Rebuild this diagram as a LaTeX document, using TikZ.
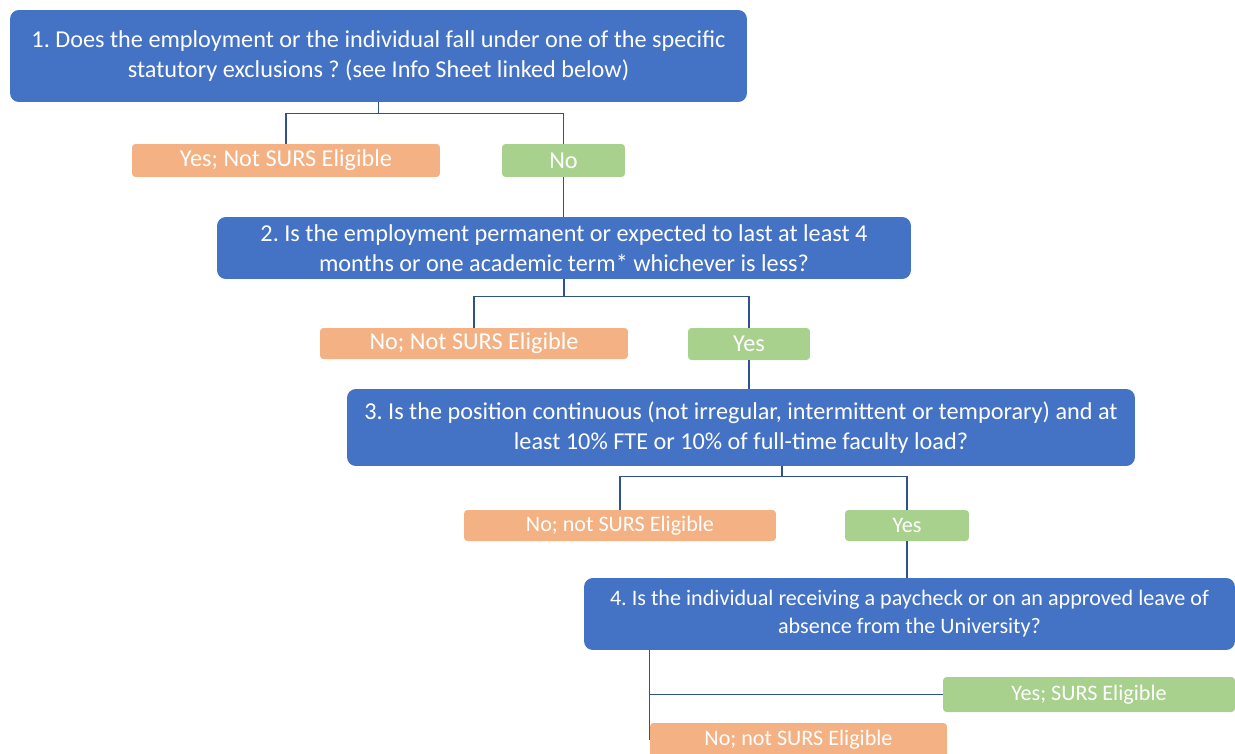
\documentclass[tikz,border=0pt]{standalone}
\usepackage{fontspec}
\setmainfont{Carlito}
\frenchspacing
\definecolor{qblue}{HTML}{4472C4}
\definecolor{noorange}{HTML}{F4B183}
\definecolor{yesgreen}{HTML}{A9D18E}
\definecolor{linkblue}{HTML}{2F528F}
\begin{document}
\begin{tikzpicture}[x=0.02cm,y=-0.02cm,
		qbox/.style={fill=qblue,text=white,rounded corners=5pt,align=center,inner sep=0pt,font=\fontsize{13.8}{17}\selectfont},
		nobox/.style={fill=noorange,text=white,rounded corners=2pt,inner sep=0pt,font=\fontsize{13.8}{15}\selectfont},
		yesbox/.style={fill=yesgreen,text=white,rounded corners=2pt,inner sep=0pt,font=\fontsize{13.8}{15}\selectfont},
		smalltext/.style={font=\fontsize{12.6}{16}\selectfont},
		link/.style={draw=linkblue,line width=0.8pt}]
	\useasboundingbox (0,0) rectangle (1235,754);
	\clip (0,0) rectangle (1235,754);
	% questions
	\node[qbox,minimum width=14.74cm,minimum height=1.84cm] (q1) at (378.5,56) {1. Does the employment or the individual fall under one of the specific\\statutory exclusions ? (see Info Sheet linked below)};
	\node[qbox,minimum width=13.88cm,minimum height=1.24cm] (q2) at (564,248) {2. Is the employment permanent or expected to last at least 4\\months or one academic term* whichever is less?};
	\node[qbox,minimum width=15.76cm,minimum height=1.54cm] (q3) at (741,427.5) {3. Is the position continuous (not irregular, intermittent or temporary) and at\\least 10\% FTE or 10\% of full-time faculty load?};
	\node[qbox,smalltext,minimum width=13.02cm,minimum height=1.44cm] (q4) at (909.5,614) {4. Is the individual receiving a paycheck or on an approved leave of\\absence from the University?};
	% answers
	\node[nobox,minimum width=6.16cm,minimum height=0.66cm] (yes1) at (286,160.5) {Yes; Not SURS Eligible};
	\node[yesbox,minimum width=2.46cm,minimum height=0.66cm] (no1) at (563.5,160.5) {No};
	\node[nobox,minimum width=6.16cm,minimum height=0.62cm] (no2) at (474,343.5) {No; Not SURS Eligible};
	\node[yesbox,minimum width=2.44cm,minimum height=0.64cm] (yes2) at (749,344) {Yes};
	\node[nobox,smalltext,minimum width=6.24cm,minimum height=0.62cm] (no3) at (620,525.5) {No; not SURS Eligible};
	\node[yesbox,smalltext,minimum width=2.48cm,minimum height=0.62cm] (yes3) at (907,525.5) {Yes};
	\node[yesbox,smalltext,minimum width=5.84cm,minimum height=0.70cm] (yes4) at (1089,694.5) {Yes; SURS Eligible};
	\node[nobox,smalltext,minimum width=5.94cm,minimum height=0.68cm] (no4) at (798.5,740) {No; not SURS Eligible};
	% connectors
	\draw[link] (q1.south) -- ++(0,11) -| (yes1.north);
	\draw[link] (q1.south) -- ++(0,11) -| (no1.north);
	\draw[link] (no1.south) -- (no1.south |- q2.north);
	\draw[link] (q2.south) -- ++(0,17) -| (no2.north);
	\draw[link] (q2.south) -- ++(0,17) -| (yes2.north);
	\draw[link] (yes2.south) -- (yes2.south |- q3.north);
	\coordinate (t3) at ([xshift=0.82cm]q3.south);
	\draw[link] (t3) -- ++(0,10) -| (no3.north);
	\draw[link] (t3) -- ++(0,10) -| (yes3.north);
	\draw[link] (yes3.south) -- (yes3.south |- q4.north);
	\coordinate (t4) at ([xshift=1.32cm]q4.south west);
	\draw[link] (t4) |- (yes4.west);
	\draw[link] (t4) -- (t4 |- no4.center);
\end{tikzpicture}
\end{document}
